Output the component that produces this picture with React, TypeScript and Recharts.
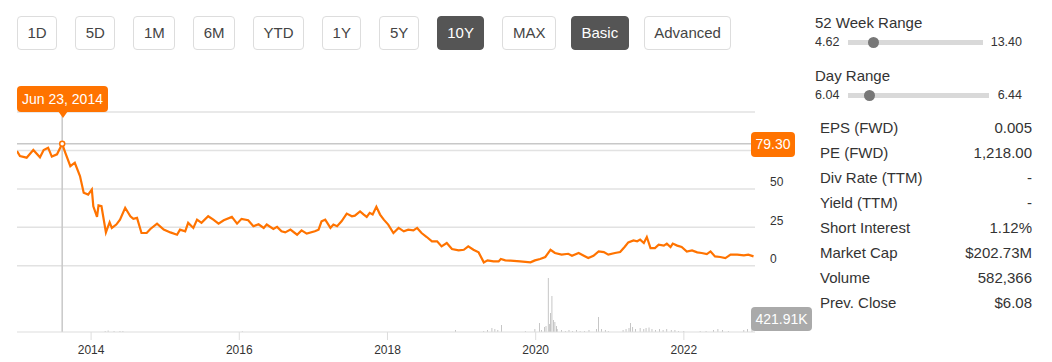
import React from "react";
import { ComposedChart, Line, Bar, XAxis, YAxis, ReferenceLine, ReferenceDot } from "recharts";

const ranges = ["1D", "5D", "1M", "6M", "YTD", "1Y", "5Y", "10Y", "MAX"];
const modes = ["Basic", "Advanced"];
const activeRange = "10Y";
const activeMode = "Basic";

// price, decimal years
const priceYears = [
  2013.0, 2013.04, 2013.13, 2013.22, 2013.31, 2013.36, 2013.42, 2013.47, 2013.54, 2013.61,
  2013.65, 2013.72, 2013.78, 2013.85, 2013.9, 2013.96, 2014.01, 2014.03, 2014.08, 2014.1,
  2014.14, 2014.2, 2014.25, 2014.28, 2014.34, 2014.39, 2014.46, 2014.53, 2014.57, 2014.62,
  2014.68, 2014.75, 2014.8, 2014.89, 2014.98, 2015.07, 2015.16, 2015.2, 2015.27, 2015.31,
  2015.38, 2015.43, 2015.49, 2015.58, 2015.65, 2015.72, 2015.79, 2015.9, 2015.97, 2016.03,
  2016.12, 2016.19, 2016.26, 2016.33, 2016.37, 2016.46, 2016.51, 2016.57, 2016.62, 2016.69,
  2016.78, 2016.84, 2016.91, 2017.02, 2017.07, 2017.11, 2017.16, 2017.23, 2017.27, 2017.32,
  2017.38, 2017.45, 2017.52, 2017.56, 2017.63, 2017.68, 2017.72, 2017.76, 2017.8, 2017.85,
  2017.9, 2017.95, 2018.01, 2018.08, 2018.15, 2018.22, 2018.28, 2018.35, 2018.4, 2018.46,
  2018.53, 2018.6, 2018.67, 2018.73, 2018.8, 2018.87, 2018.96, 2019.03, 2019.09, 2019.16,
  2019.23, 2019.3, 2019.35, 2019.43, 2019.5, 2019.53, 2019.59, 2019.66, 2019.79, 2019.93,
  2019.99, 2020.06, 2020.13, 2020.2, 2020.26, 2020.35, 2020.44, 2020.49, 2020.58, 2020.65,
  2020.71, 2020.78, 2020.85, 2020.92, 2020.98, 2021.07, 2021.14, 2021.2, 2021.25, 2021.32,
  2021.37, 2021.41, 2021.46, 2021.5, 2021.55, 2021.61, 2021.66, 2021.73, 2021.77, 2021.82,
  2021.85, 2021.91, 2021.97, 2022.04, 2022.11, 2022.18, 2022.24, 2022.31, 2022.36, 2022.42,
  2022.49, 2022.56, 2022.63, 2022.72, 2022.81, 2022.87, 2022.94,
];
const prices = [
  74.6, 71.4, 70.3, 75.3, 70.5, 75.3, 76.8, 71.0, 72.5, 79.3,
  73.8, 64.8, 67.0, 58.3, 47.5, 46.3, 49.6, 38.7, 31.8, 39.2,
  38.7, 21.7, 28.3, 24.6, 26.8, 30.0, 37.7, 32.2, 30.5, 31.1,
  21.3, 21.3, 23.9, 27.4, 23.5, 21.7, 20.2, 23.5, 22.4, 27.9,
  24.6, 30.0, 27.9, 32.2, 30.0, 27.4, 29.6, 31.8, 27.4, 30.5,
  29.6, 25.7, 27.0, 24.6, 26.8, 23.9, 25.3, 22.4, 21.7, 23.5,
  20.2, 23.0, 20.9, 22.4, 23.5, 28.9, 30.0, 24.6, 26.8, 25.7,
  28.9, 33.9, 32.2, 32.6, 35.4, 33.3, 31.8, 34.4, 33.3, 38.3,
  33.3, 30.0, 26.8, 21.3, 24.6, 22.4, 23.5, 23.0, 24.6, 21.3,
  18.7, 15.9, 15.9, 12.6, 14.8, 10.9, 10.0, 10.4, 12.6, 10.4,
  8.7, 2.2, 3.5, 2.8, 2.8, 4.4, 3.5, 3.3, 2.8, 2.2,
  3.5, 4.4, 5.7, 10.4, 8.3, 7.2, 7.8, 6.5, 8.3, 6.5,
  5.0, 6.5, 9.3, 8.9, 7.2, 8.3, 8.9, 12.2, 15.2, 16.5,
  15.9, 17.0, 14.8, 18.7, 11.5, 11.5, 13.7, 13.1, 14.4, 12.2,
  14.4, 13.1, 12.2, 9.3, 10.0, 8.7, 8.3, 7.6, 9.3, 6.1,
  5.7, 5.0, 7.2, 7.2, 6.7, 7.2, 6.1,
];

// volume, thousands of shares
const volYears = [
  2014.19, 2014.23, 2014.31, 2014.39, 2014.43, 2016.04, 2018.92, 2019.3, 2019.35, 2019.41,
  2019.45, 2019.49, 2019.54, 2019.86, 2019.99, 2020.05, 2020.08, 2020.12, 2020.14, 2020.17,
  2020.19, 2020.2, 2020.22, 2020.24, 2020.26, 2020.28, 2020.29, 2020.35, 2020.4, 2020.45,
  2020.5, 2020.55, 2020.6, 2020.66, 2020.72, 2020.82, 2020.85, 2020.89, 2020.94, 2020.98,
  2021.18, 2021.22, 2021.26, 2021.28, 2021.31, 2021.35, 2021.41, 2021.46, 2021.49, 2021.53,
  2021.57, 2021.62, 2021.67, 2021.72, 2021.77, 2021.83, 2021.88, 2021.93, 2022.0, 2022.22,
  2022.3, 2022.4, 2022.46, 2022.52, 2022.6, 2022.81, 2022.86, 2022.92,
];
const volumes = [
  90, 130, 100, 90, 80, 70, 180, 90, 180, 360,
  270, 180, 640, 90, 270, 820, 180, 450, 550, 4900,
  730, 1730, 3270, 1090, 910, 550, 270, 180, 90, 180,
  90, 180, 90, 90, 180, 270, 1360, 270, 180, 90,
  180, 270, 360, 820, 450, 270, 360, 270, 360, 420,
  270, 180, 270, 180, 270, 180, 180, 90, 90, 90,
  90, 180, 270, 180, 90, 180, 270, 421.91,
];

const yearTicks = [2014, 2016, 2018, 2020, 2022];
const priceTicks = [0, 25, 50];
const gridValues = [0, 25, 50, 75, 100];
const hoverYear = 2013.61;
const hoverPrice = 79.3;
const hoverDate = "Jun 23, 2014";
const lastVolume = "421.91K";

const rangeRows = [
  { label: "52 Week Range", low: 4.62, high: 13.4, mark: 6.3 },
  { label: "Day Range", low: 6.04, high: 6.44, mark: 6.1 },
];
const statLabels = ["EPS (FWD)", "PE (FWD)", "Div Rate (TTM)", "Yield (TTM)", "Short Interest", "Market Cap", "Volume", "Prev. Close"];
const statValues = ["0.005", "1,218.00", "-", "-", "1.12%", "$202.73M", "582,366", "$6.08"];

const ORANGE = "#ff7300";
const FONT = "'Liberation Sans', Arial, Helvetica, sans-serif";

const rows: Array<{ t: number; price?: number; vol?: number }> = [
  ...priceYears.map((t, i) => ({ t, price: prices[i] })),
  ...volYears.map((t, i) => ({ t, vol: volumes[i] })),
].sort((a, b) => a.t - b.t);

function PriceTick(props: any) {
  const { x, y, payload } = props;
  return (
    <text x={x} y={y - 7} dy="0.355em" fontSize={12} fill="#333" fontFamily={FONT} textAnchor="start">
      {payload.value}
    </text>
  );
}

function Btn({ label, active }: { label: string; active: boolean }) {
  return (
    <div
      style={{
        height: 32,
        lineHeight: "32px",
        padding: "0 9.5px",
        border: `1px solid ${active ? "#555" : "#ddd"}`,
        borderRadius: 4,
        background: active ? "#555" : "#fff",
        color: active ? "#fff" : "#444",
        fontSize: 15,
      }}
    >
      {label}
    </div>
  );
}

function RangeRow({ r, top }: { r: (typeof rangeRows)[number]; top: number }) {
  const frac = (r.mark - r.low) / (r.high - r.low);
  const trackW = r.label === "Day Range" ? 141 : 135;
  return (
    <div style={{ position: "absolute", left: 815, top, width: 210 }}>
      <div style={{ fontSize: 15, color: "#333", lineHeight: "18px" }}>{r.label}</div>
      <div style={{ position: "relative", height: 16, marginTop: 2 }}>
        <span style={{ position: "absolute", left: 0, top: 0, fontSize: 12.5, color: "#333", lineHeight: "16px" }}>{r.low.toFixed(2)}</span>
        <div style={{ position: "absolute", left: 33, top: 6, width: trackW, height: 5, background: "#d9d9d9" }} />
        <div
          style={{
            position: "absolute",
            left: 33 + frac * trackW - 5.5,
            top: 3,
            width: 11,
            height: 11,
            borderRadius: "50%",
            background: "#777",
          }}
        />
        <span style={{ position: "absolute", right: 3, top: 0, fontSize: 12.5, color: "#333", lineHeight: "16px" }}>{r.high.toFixed(2)}</span>
      </div>
    </div>
  );
}

export default function App() {
  return (
    <div style={{ position: "fixed", left: 0, top: 0, width: 1052, height: 362, background: "#fff", fontFamily: FONT, overflow: "hidden" }}>
      <div style={{ position: "absolute", left: 17, top: 16, display: "flex", gap: 18 }}>
        {ranges.map((r) => (
          <Btn key={r} label={r} active={r === activeRange} />
        ))}
        <div style={{ display: "flex", gap: 15, marginLeft: -3 }}>
          {modes.map((m) => (
            <Btn key={m} label={m} active={m === activeMode} />
          ))}
        </div>
      </div>

      <div style={{ position: "absolute", left: 0, top: 0 }}>
        <ComposedChart width={1052} height={362} data={rows} margin={{ top: 112, right: 257, bottom: 0, left: 17 }}>
          <XAxis
            dataKey="t"
            type="number"
            domain={[2013.0, 2022.96]}
            allowDataOverflow
            ticks={yearTicks}
            tickFormatter={(v) => String(v)}
            tick={{ fontSize: 12, fill: "#333", fontFamily: FONT }}
            tickLine={{ stroke: "#ddd" }}
            axisLine={{ stroke: "#ddd" }}
            tickSize={8}
            tickMargin={5}
            height={30}
          />
          <YAxis
            yAxisId="p"
            orientation="right"
            domain={[-43.08, 100]}
            allowDataOverflow
            ticks={priceTicks}
            width={40}
            axisLine={false}
            tickLine={false}
            tickSize={6}
            tickMargin={9}
            tick={PriceTick}
          />
          <YAxis yAxisId="v" hide domain={[0, 20000]} allowDataOverflow />
          {gridValues.map((v) => (
            <ReferenceLine key={v} yAxisId="p" y={v} stroke="#e2e2e2" strokeWidth={1.5} />
          ))}
          <ReferenceLine yAxisId="p" y={hoverPrice} stroke="#c8c8c8" strokeWidth={1.5} />
          <ReferenceLine yAxisId="p" x={hoverYear} stroke="#c8c8c8" strokeWidth={1.5} />
          <Bar yAxisId="v" dataKey="vol" fill="#aaa" barSize={2} isAnimationActive={false} />
          <Line
            yAxisId="p"
            dataKey="price"
            type="linear"
            stroke={ORANGE}
            strokeWidth={2.2}
            dot={false}
            connectNulls
            isAnimationActive={false}
          />
          <ReferenceDot yAxisId="p" x={hoverYear} y={hoverPrice} r={2.5} fill="#fff" stroke={ORANGE} strokeWidth={1.5} />
        </ComposedChart>
      </div>

      {/* hover date badge */}
      <div
        style={{
          position: "absolute",
          left: 17,
          top: 86,
          width: 91,
          height: 26,
          lineHeight: "26px",
          background: ORANGE,
          color: "#fff",
          fontSize: 14,
          textAlign: "center",
          borderRadius: 4,
        }}
      >
        {hoverDate}
      </div>
      <div
        style={{
          position: "absolute",
          left: 57.5,
          top: 111,
          width: 0,
          height: 0,
          borderLeft: "5px solid transparent",
          borderRight: "5px solid transparent",
          borderTop: `7px solid ${ORANGE}`,
        }}
      />

      {/* price badge */}
      <div
        style={{
          position: "absolute",
          left: 751,
          top: 132,
          width: 44,
          height: 25,
          lineHeight: "25px",
          background: ORANGE,
          color: "#fff",
          fontSize: 14,
          textAlign: "center",
          borderRadius: 4,
        }}
      >
        {hoverPrice.toFixed(2)}
      </div>

      {/* volume badge */}
      <div
        style={{
          position: "absolute",
          left: 751,
          top: 307,
          width: 61,
          height: 24,
          lineHeight: "24px",
          background: "#aaa",
          color: "#fff",
          fontSize: 14,
          textAlign: "center",
          borderRadius: 4,
        }}
      >
        {lastVolume}
      </div>

      <RangeRow r={rangeRows[0]} top={14} />
      <RangeRow r={rangeRows[1]} top={67} />

      <div style={{ position: "absolute", left: 820, top: 118, width: 212 }}>
        {statLabels.map((l, i) => (
          <div key={l} style={{ display: "flex", justifyContent: "space-between", height: 25, lineHeight: "20px", fontSize: 15, color: "#333" }}>
            <span>{l}</span>
            <span>{statValues[i]}</span>
          </div>
        ))}
      </div>
    </div>
  );
}
